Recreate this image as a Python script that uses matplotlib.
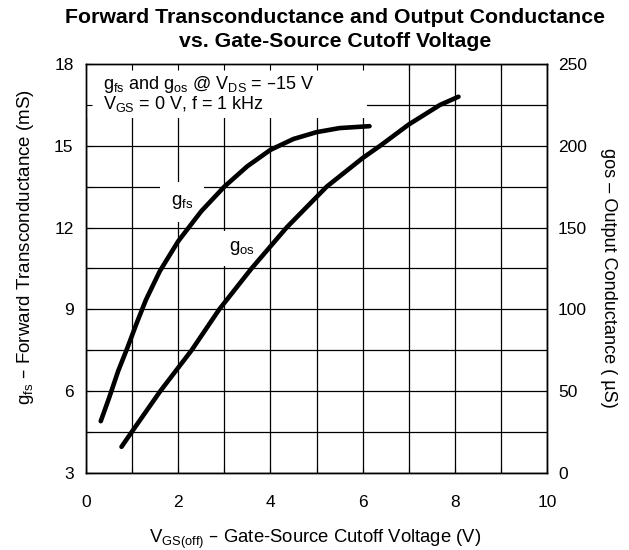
import numpy as np
import matplotlib
matplotlib.use('Agg')
import matplotlib.pyplot as plt
from matplotlib.patches import Rectangle

plt.rcParams['font.family'] = ['Liberation Sans', 'DejaVu Sans']
plt.rcParams['mathtext.default'] = 'regular'

# gfs (left axis, mS) vs VGS(off) (V)
gfs_x = [0.32, 0.5, 0.7, 0.9, 1.1, 1.3, 1.6, 2.0, 2.5, 3.0, 3.5, 4.0, 4.5, 5.0, 5.5, 6.15]
gfs_y = [4.9, 5.75, 6.75, 7.6, 8.5, 9.35, 10.4, 11.5, 12.6, 13.5, 14.25, 14.85, 15.25, 15.5, 15.65, 15.72]

# gos (right axis, uS) vs VGS(off) (V)
gos_x = [0.77, 0.99, 1.61, 2.29, 2.89, 3.59, 4.35, 5.22, 6.0, 6.38, 7.0, 7.68, 8.08]
gos_y = [16, 25, 50, 75, 100, 125, 150, 175, 192.5, 200, 213, 225, 230]

x_ticks = [0, 2, 4, 6, 8, 10]
left_ticks = [3, 6, 9, 12, 15, 18]
right_ticks = [0, 50, 100, 150, 200, 250]

fig = plt.figure(figsize=(6.29, 5.5), dpi=100)
ax = fig.add_axes([86/629, 1 - 473/550, 461/629, 409/550])
ax2 = ax.twinx()

ax.set_xlim(0, 10)
ax.set_ylim(3, 18)
ax2.set_ylim(0, 250)

# grid, drawn by hand so the white boxes can hide it
ax.vlines(np.arange(0, 11, 1), 3, 18, color='black', lw=0.9, zorder=1)
ax.hlines(np.arange(3, 18.1, 1.5), 0, 10, color='black', lw=0.9, zorder=1)

# white area behind the conditions text
ax.add_patch(Rectangle((0, 0.868), 0.61, 0.132, transform=ax.transAxes,
                       facecolor='white', edgecolor='none', zorder=1.5))

ax.set_xticks(x_ticks)
ax.set_xticks(np.arange(0, 11, 1), minor=True)
ax.set_yticks(left_ticks)
ax.set_yticks(np.arange(3, 18.1, 1.5), minor=True)
ax2.set_yticks(right_ticks)

ax.tick_params(which='both', direction='in', length=4, width=0.8, top=True, right=False,
               labelsize=12.5)
ax.tick_params(axis='x', which='major', pad=15.5)
ax.tick_params(axis='y', which='major', pad=9)
ax2.tick_params(which='both', direction='in', length=0, labelsize=12.5, pad=8)

for a in (ax, ax2):
    for s in a.spines.values():
        s.set_linewidth(1.0)

ax.plot(gfs_x, gfs_y, color='black', lw=3.3, solid_capstyle='round', zorder=4)
ax2.plot(gos_x, gos_y, color='black', lw=3.3, solid_capstyle='round', zorder=4)

ax.text(0.037, 0.940, 'g$_{fs}$ and g$_{os}$ @ V$_{DS}$ = \u201315 V', transform=ax.transAxes,
        fontsize=13, va='baseline', ha='left', zorder=3)
ax.text(0.037, 0.891, 'V$_{GS}$ = 0 V, f = 1 kHz', transform=ax.transAxes,
        fontsize=13, va='baseline', ha='left', zorder=3)

ax.text(2.08, 12.95, 'g$_{fs}$', fontsize=13.5, ha='center', va='center', zorder=3,
        bbox=dict(facecolor='white', edgecolor='none', pad=8))
ax.text(3.38, 11.24, 'g$_{os}$', fontsize=13.5, ha='center', va='center', zorder=3,
        bbox=dict(facecolor='white', edgecolor='none', pad=6))

ax.set_xlabel('V$_{GS(off)}$ \u2013 Gate-Source Cutoff Voltage (V)', fontsize=13.3)
ax.xaxis.set_label_coords(0.496, -0.134)
ax.set_ylabel('g$_{fs}$ \u2013 Forward Transconductance (mS)', fontsize=13.5,
              va='center', ha='center')
ax.yaxis.set_label_coords(-0.131, 0.553)
ax2.set_ylabel('gos \u2013 Output Conductance ( \u00b5S)', fontsize=13.1, rotation=270,
               va='center', ha='center')
ax2.yaxis.set_label_coords(1.133, 0.477)

fig.text(0.532, 1 - 23/550, 'Forward Transconductance and Output Conductance',
         fontsize=15.3, fontweight='bold', ha='center', va='baseline')
fig.text(0.532, 1 - 47/550, 'vs. Gate-Source Cutoff Voltage',
         fontsize=15.3, fontweight='bold', ha='center', va='baseline')

fig.savefig('out.png', dpi=100)
